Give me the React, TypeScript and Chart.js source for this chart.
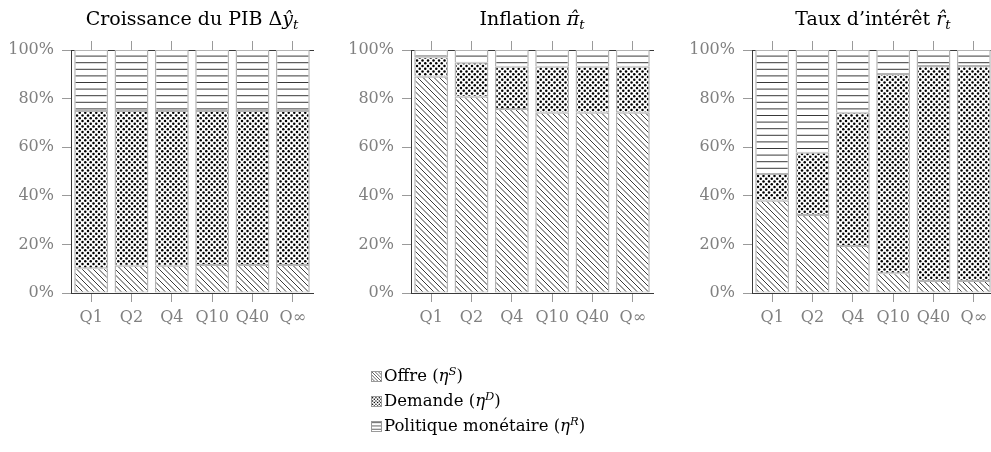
import React, { useEffect, useRef } from 'react';
import { Chart, registerables } from 'chart.js';

Chart.register(...registerables);

// Horizons de prévision et graduations de l'axe vertical
const HORIZONS = ['Q1', 'Q2', 'Q4', 'Q10', 'Q40', 'Q∞'];
const Y_TICKS = [0, 20, 40, 60, 80, 100];

// Décomposition de la variance (en %) — croissance du PIB
const PIB_OFFRE = [10.2, 11.2, 11.2, 11.5, 11.5, 11.5];
const PIB_DEMANDE = [64.7, 63.7, 63.7, 63.4, 63.4, 63.4];
const PIB_POLITIQUE = [25.1, 25.1, 25.1, 25.1, 25.1, 25.1];

// Inflation
const INF_OFFRE = [89.0, 80.8, 75.7, 74.2, 74.2, 74.2];
const INF_DEMANDE = [8.0, 14.0, 17.4, 18.9, 18.9, 18.9];
const INF_POLITIQUE = [3.0, 5.2, 6.9, 6.9, 6.9, 6.9];

// Taux d'intérêt
const TAUX_OFFRE = [38.0, 32.1, 19.3, 8.1, 4.9, 4.9];
const TAUX_DEMANDE = [11.0, 25.6, 54.9, 82.0, 88.5, 88.5];
const TAUX_POLITIQUE = [51.0, 42.3, 25.8, 9.9, 6.6, 6.6];

const SERIF = '"DejaVu Serif", serif';
const INK = '#222222';

type Kind = 'lines' | 'dots' | 'hlines';

// Paints a hatch motif over a w×h area with the given period
function paintMotif(ctx: CanvasRenderingContext2D, kind: Kind, w: number, h: number, p: number, lw: number, r: number) {
  ctx.fillStyle = '#ffffff';
  ctx.fillRect(0, 0, w, h);
  ctx.strokeStyle = INK;
  ctx.fillStyle = '#000000';
  ctx.lineWidth = lw;
  const n = Math.ceil(Math.max(w, h) / p) + 2;
  if (kind === 'lines') {
    ctx.beginPath();
    for (let k = -n; k <= n; k++) {
      ctx.moveTo(k * p, 0);
      ctx.lineTo(k * p + h, h);
    }
    ctx.stroke();
  } else if (kind === 'hlines') {
    ctx.beginPath();
    for (let j = -1; j <= n; j++) {
      const y = j * p + p / 2;
      ctx.moveTo(0, y);
      ctx.lineTo(w, y);
    }
    ctx.stroke();
  } else {
    for (let i = -1; i <= n; i++) {
      for (let j = -1; j <= n; j++) {
        for (const d of [0, p / 2]) {
          ctx.beginPath();
          ctx.arc(i * p + d, j * p + d, r, 0, Math.PI * 2);
          ctx.fill();
        }
      }
    }
  }
}

let cache: Record<Kind, CanvasPattern> | null = null;
function getPatterns(): Record<Kind, CanvasPattern> {
  if (cache) return cache;
  const make = (kind: Kind, p: number, lw: number, r: number) => {
    const tile = document.createElement('canvas');
    tile.width = 33;
    tile.height = 33;
    const ctx = tile.getContext('2d')!;
    paintMotif(ctx, kind, 33, 33, p, lw, r);
    return ctx.createPattern(tile, 'repeat')!;
  };
  cache = {
    lines: make('lines', 5.5, 0.9, 0),
    dots: make('dots', 5.5, 0, 1.25),
    hlines: make('hlines', 6.6, 0.9, 0),
  };
  return cache;
}

const tickGrid = {
  display: true,
  drawOnChartArea: false,
  drawTicks: true,
  tickLength: 9,
  offset: false,
  color: '#9a9a9a',
  lineWidth: 1,
};
const axisBorder = { display: true, color: '#3a3a3a', width: 1 };
const tickFont = { family: SERIF, size: 16 };

interface PanelProps {
  left: number;
  title: React.ReactNode;
  offre: number[];
  demande: number[];
  politique: number[];
}

function Panel({ left, title, offre, demande, politique }: PanelProps) {
  const ref = useRef<HTMLCanvasElement>(null);

  useEffect(() => {
    const pats = getPatterns();
    const seg = (label: string, data: number[], fill: CanvasPattern) => ({
      label,
      data,
      xAxisID: 'x',
      backgroundColor: fill,
      borderColor: '#b4b4b4',
      borderWidth: { top: 1, bottom: 1, left: 1.5, right: 1.5 },
      borderSkipped: false as const,
      barPercentage: 0.84,
      categoryPercentage: 1,
    });
    const chart = new Chart(ref.current!, {
      type: 'bar',
      data: {
        labels: HORIZONS,
        datasets: [
          seg('Offre', offre, pats.lines),
          seg('Demande', demande, pats.dots),
          seg('Politique monétaire', politique, pats.hlines),
        ],
      },
      options: {
        animation: false,
        responsive: false,
        devicePixelRatio: 1,
        layout: { padding: { left: 0, right: 17, top: 0, bottom: 0 } },
        plugins: { legend: { display: false }, tooltip: { enabled: false }, title: { display: false } },
        scales: {
          x: {
            type: 'category',
            position: 'bottom',
            stacked: true,
            offset: true,
            grid: tickGrid,
            border: axisBorder,
            ticks: { color: '#808080', font: tickFont, padding: 6, maxRotation: 0, autoSkip: false },
            afterFit: (s: any) => {
              s.height = 47;
            },
          },
          xTop: {
            type: 'category',
            position: 'top',
            labels: HORIZONS,
            offset: true,
            grid: tickGrid,
            border: axisBorder,
            ticks: { display: false },
            afterFit: (s: any) => {
              s.height = 50;
            },
          },
          y: {
            stacked: true,
            min: 0,
            max: 100,
            grid: tickGrid,
            border: axisBorder,
            afterBuildTicks: (s: any) => {
              s.ticks = Y_TICKS.map((v) => ({ value: v }));
            },
            ticks: {
              color: '#808080',
              font: tickFont,
              padding: 8,
              callback: (v: any) => `${v}%`,
            },
            afterFit: (s: any) => {
              s.width = 71;
            },
          },
        },
      } as any,
    });
    return () => chart.destroy();
  }, [offre, demande, politique]);

  return (
    <>
      <canvas
        ref={ref}
        width={330}
        height={340}
        style={{ position: 'absolute', left, top: 0, width: 330, height: 340 }}
      />
      <div
        style={{
          position: 'absolute',
          left: left + 71,
          width: 242,
          top: 6,
          textAlign: 'center',
          fontFamily: SERIF,
          fontSize: 19,
          lineHeight: '24px',
          color: '#000',
          whiteSpace: 'nowrap',
        }}
      >
        {title}
      </div>
    </>
  );
}

const sub: React.CSSProperties = { fontSize: '0.7em', verticalAlign: '-0.3em', lineHeight: 0, fontStyle: 'italic' };
const sup: React.CSSProperties = { fontSize: '0.7em', verticalAlign: '0.55em', lineHeight: 0, fontStyle: 'italic' };

function Swatch({ kind }: { kind: Kind }) {
  const ref = useRef<HTMLCanvasElement>(null);
  useEffect(() => {
    const ctx = ref.current!.getContext('2d')!;
    paintMotif(ctx, kind, 11, 11, 3.3, 0.7, 0.75);
    ctx.strokeStyle = '#9a9a9a';
    ctx.lineWidth = 1;
    ctx.strokeRect(0.5, 0.5, 10, 10);
  }, [kind]);
  return (
    <canvas
      ref={ref}
      width={11}
      height={11}
      style={{ width: 11, height: 11, marginRight: 2, verticalAlign: '-1px' }}
    />
  );
}

const legendRows: { kind: Kind; text: React.ReactNode }[] = [
  { kind: 'lines', text: <>Offre (<i>η</i><span style={sup}>S</span>)</> },
  { kind: 'dots', text: <>Demande (<i>η</i><span style={sup}>D</span>)</> },
  { kind: 'hlines', text: <>Politique monétaire (<i>η</i><span style={sup}>R</span>)</> },
];

export default function App() {
  return (
    <div
      style={{
        position: 'fixed',
        left: 0,
        top: 0,
        width: 991,
        height: 452,
        overflow: 'hidden',
        background: '#fff',
      }}
    >
      <Panel
        left={0}
        title={<>Croissance du PIB Δ<i>ŷ</i><span style={sub}>t</span></>}
        offre={PIB_OFFRE}
        demande={PIB_DEMANDE}
        politique={PIB_POLITIQUE}
      />
      <Panel
        left={340}
        title={<>Inflation <i>π̂</i><span style={sub}>t</span></>}
        offre={INF_OFFRE}
        demande={INF_DEMANDE}
        politique={INF_POLITIQUE}
      />
      <Panel
        left={681}
        title={<>Taux d’intérêt <i>r̂</i><span style={sub}>t</span></>}
        offre={TAUX_OFFRE}
        demande={TAUX_DEMANDE}
        politique={TAUX_POLITIQUE}
      />
      <div
        style={{
          position: 'absolute',
          left: 371,
          top: 363,
          fontFamily: SERIF,
          fontSize: 16.5,
          lineHeight: '25px',
          color: '#000',
          whiteSpace: 'nowrap',
        }}
      >
        {legendRows.map((r) => (
          <div key={r.kind}>
            <Swatch kind={r.kind} />
            {r.text}
          </div>
        ))}
      </div>
    </div>
  );
}
